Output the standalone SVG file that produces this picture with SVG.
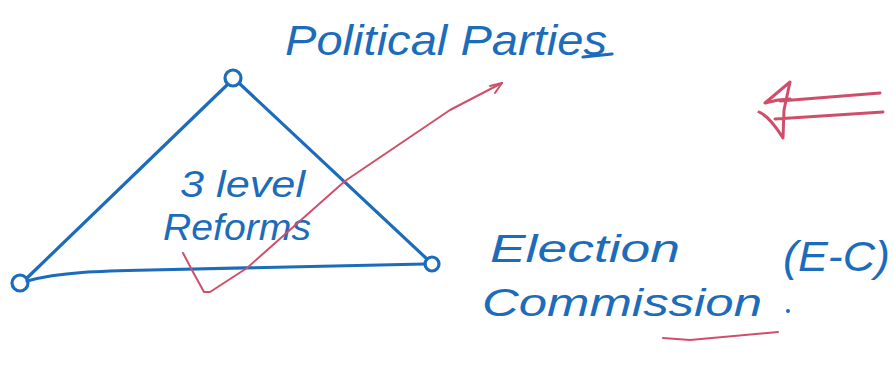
<svg xmlns="http://www.w3.org/2000/svg" width="894" height="372" viewBox="0 0 894 372">
<style>
.ink{fill:none;stroke:#1c6cbb;stroke-width:3.2;stroke-linecap:round;stroke-linejoin:round}
.red{fill:none;stroke:#cf4f6a;stroke-width:2;stroke-linecap:round;stroke-linejoin:round}
.red3{fill:none;stroke:#cf4f6a;stroke-width:3;stroke-linecap:round;stroke-linejoin:round}
.t{font-family:"Liberation Sans",Arial,sans-serif;fill:#1c6cbb;font-style:italic}
</style>
<rect width="894" height="372" fill="#ffffff"/>
<g id="political-parties">
<circle cx="233" cy="78" r="8" class="ink"/>
<text class="t" x="285" y="55" font-size="42" textLength="322" lengthAdjust="spacingAndGlyphs">Political Parties</text>
<path class="ink" d="M583 57 L612 54"/>
</g>
<g id="election-commission">
<circle cx="432" cy="264" r="7" class="ink"/>
<text class="t" x="490" y="262" font-size="38" textLength="190" lengthAdjust="spacingAndGlyphs">Election</text>
<text class="t" x="482" y="316" font-size="38" textLength="280" lengthAdjust="spacingAndGlyphs">Commission</text>
<text class="t" x="783" y="271" font-size="42" textLength="107" lengthAdjust="spacingAndGlyphs">(E-C)</text>
<circle cx="788" cy="311" r="2" fill="#1c6cbb"/>
<path class="red" d="M663 338 L690 340 L778 332"/>
</g>
<g id="voters-node">
<circle cx="20" cy="283" r="8" class="ink"/>
</g>
<g id="center-label">
<text class="t" x="180" y="197" font-size="36" textLength="125" lengthAdjust="spacingAndGlyphs">3 level</text>
<text class="t" x="163" y="240" font-size="36" textLength="148" lengthAdjust="spacingAndGlyphs">Reforms</text>
</g>
<g id="connectors">
<path class="ink" d="M227 85 L28 277"/>
<path class="ink" d="M240 84 L427 259"/>
<path class="ink" d="M27 281 C60 272 100 271 150 270 C250 268 350 266 425 264"/>
<path class="red" d="M183 253 L193 272 L204 292 L210 292 L247 268 L345 181 L450 110 L502 83"/>
<path class="red" d="M490 86 L502 83 L495 93"/>
<path class="red3" d="M790 82 L765 103 L778 100 L790 99 M790 82 L784 110 L783 138 C775 125 768 116 759 112 M780 101 L880 93 M775 119 L883 112"/>
</g>
</svg>
